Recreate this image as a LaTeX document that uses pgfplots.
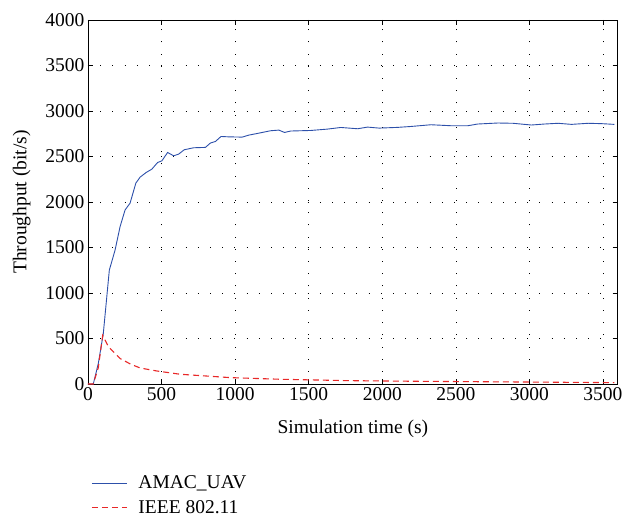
\documentclass[border=0pt]{standalone}
\usepackage{pgfplots}
\pgfplotsset{compat=1.18}
\usepackage{fontspec}
\setmainfont{Liberation Serif}
\definecolor{amac}{RGB}{45,80,170}
\definecolor{ieee}{RGB}{232,40,40}

\begin{document}
\begin{tikzpicture}
\begin{axis}[
    name=ax,
    scale only axis,
    width=529.7pt, height=364pt,
    xmin=0, xmax=3600,
    ymin=0, ymax=4000,
    xtick={0,500,...,3500},
    ytick={0,500,...,4000},
    tick align=inside,
    major tick length=5pt,
    /pgf/number format/assume math mode=true,
    /pgf/number format/1000 sep={},
    tick label style={font=\fontsize{19.5}{22}\selectfont, black},
    label style={font=\fontsize{19.5}{22}\selectfont},
    xlabel={Simulation time (s)},
    ylabel={Throughput (bit/s)},
    xlabel style={at={(axis description cs:0.5,-0.124)}, anchor=center},
    ylabel style={at={(axis description cs:-0.125,0.5)}, anchor=center},
    grid=major,
    grid style={black, line width=0.7pt, dash pattern=on 0.9pt off 11.3pt},
    axis line style={black, line width=0.7pt},
    every tick/.style={black, line width=0.6pt},
    legend style={
        at={(axis description cs:0.006,-0.245)},
        anchor=north west,
        draw=none, fill=none,
        inner sep=0pt,
        font=\fontsize{19.5}{22}\selectfont,
        row sep=5pt,
        nodes={inner sep=2.5pt},
    },
    legend cell align=left,
    legend image code/.code={\draw[#1] (0pt,0pt) -- (35pt,0pt); \path[draw=none] (0pt,0pt) -- (44pt,0pt);},
]

\addplot[amac, line width=0.9pt] coordinates {
    (0,0)(36,0)(70,225)(104,555)(145,1252)(184,1472)(218,1729)(252,1913)
    (286,1987)(325,2207)(354,2273)(395,2324)(434,2361)(473,2434)(502,2452)
    (541,2544)(582,2508)(616,2526)(654,2574)(718,2596)(798,2600)(832,2648)
    (866,2665)(904,2720)(956,2716)(1048,2713)(1093,2735)(1150,2753)(1241,2783)
    (1297,2790)(1336,2764)(1377,2780)(1513,2786)(1627,2801)(1718,2819)
    (1832,2805)(1900,2823)(1979,2812)(2104,2820)(2195,2830)(2331,2849)
    (2468,2838)(2581,2838)(2649,2857)(2786,2868)(2888,2865)(3013,2846)
    (3104,2857)(3195,2865)(3286,2853)(3399,2865)(3490,2861)(3577,2853)
};
\addlegendentry{AMAC\_UAV}

\addplot[ieee, line width=1.1pt, dash pattern=on 6pt off 4pt] coordinates {
    (0,0)(36,0)(70,180)(100,535)(139,408)(218,280)(290,218)(354,176)
    (468,143)(627,107)(968,70)(1309,52)(1763,37)(2218,30)(2672,25)
    (3127,20)(3400,17)(3577,15)
};
\addlegendentry{IEEE 802.11}

\end{axis}
\pgfresetboundingbox
\path ([shift={(-88pt,-137pt)}]ax.south west) rectangle ([shift={(17.3pt,20pt)}]ax.north east);
\end{tikzpicture}
\end{document}
